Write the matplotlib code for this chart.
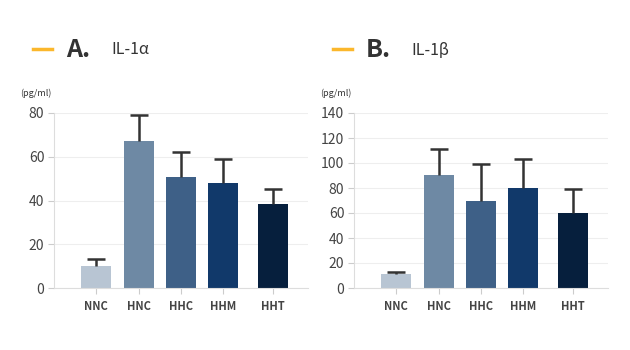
import matplotlib
matplotlib.use("Agg")
import matplotlib.pyplot as plt

categories = ["NNC", "HNC", "HHC", "HHM", "HHT"]
il1a_values = [10.2, 67.2, 50.7, 48.0, 38.4]
il1a_err = [3.2, 12.0, 11.6, 11.0, 6.9]
il1b_values = [11.2, 90.4, 69.6, 80.0, 60.0]
il1b_err = [1.3, 20.8, 29.9, 23.2, 19.2]
il1a_ticks = [0, 20, 40, 60, 80]
il1b_ticks = [0, 20, 40, 60, 80, 100, 120, 140]
colors = ["#b8c5d3", "#6e89a4", "#3e6087", "#11396a", "#061f3d"]
xpos = [0, 1.01, 2.0, 3.0, 4.18]

plt.rcParams['font.family'] = ['Noto Sans CJK KR', 'DejaVu Sans']

fig = plt.figure(figsize=(6.3, 3.5), dpi=100)
W, H = 630, 350

def make_ax(left_px, right_px, values, errs, ticks, letter, name):
    ax = fig.add_axes([left_px / W, 1 - 288 / H, (right_px - left_px) / W, (288 - 113) / H])
    ax.bar(xpos, values, width=0.71, color=colors, zorder=2)
    eb = ax.errorbar(xpos, values, yerr=[[0] * len(errs), errs], fmt="none",
                     ecolor="#333333", elinewidth=1.8, capsize=6.5, capthick=1.8, zorder=3)
    caplines = eb[1]
    if len(caplines) >= 2:
        caplines[0].set_visible(False)
    ax.set_xlim(-1.0, 5.0)
    ax.set_ylim(ticks[0], ticks[-1])
    ax.set_yticks(ticks)
    ax.set_xticks(xpos)
    ax.set_xticklabels(categories, fontsize=8, fontweight="bold", color="#444444")
    ax.tick_params(axis="y", labelsize=10, colors="#444444", length=4, width=0.8,
                   color="#cccccc", pad=3)
    ax.tick_params(axis="x", length=4, width=0.8, color="#cccccc", pad=5)
    ax.grid(axis="y", color="#eeeeee", linewidth=0.8, zorder=0)
    for s in ["top", "right"]:
        ax.spines[s].set_visible(False)
    for s in ["left", "bottom"]:
        ax.spines[s].set_color("#dddddd")
        ax.spines[s].set_linewidth(0.8)
    # header
    off = left_px - 54
    fig.add_artist(plt.Line2D([(33 + off) / W, (52 + off) / W], [1 - 49 / H, 1 - 49 / H],
                              color="#fbb72c", linewidth=2.5))
    fig.text((66 + off) / W, 1 - 50 / H, letter, fontsize=18, fontweight="bold",
             color="#333333", va="center", ha="left")
    fig.text((111 + off) / W, 1 - 50 / H, name, fontsize=11.5, color="#333333",
             va="center", ha="left")
    fig.text((20 + off) / W, 1 - 93 / H, "(pg/ml)", fontsize=6.5, color="#333333",
             va="center", ha="left")
    return ax

make_ax(54, 308, il1a_values, il1a_err, il1a_ticks, "A.", "IL-1α")
make_ax(354, 608, il1b_values, il1b_err, il1b_ticks, "B.", "IL-1β")

fig.savefig("out.png", dpi=100, facecolor="white")
